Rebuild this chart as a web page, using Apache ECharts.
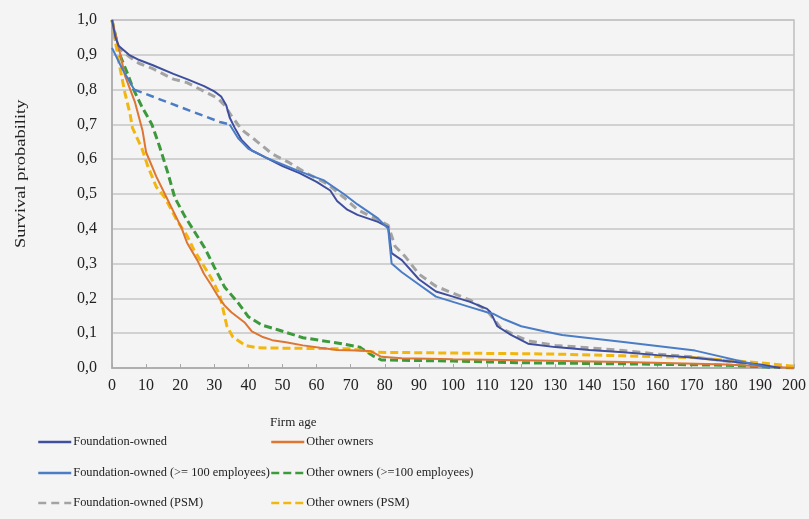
<!DOCTYPE html>
<html>
<head>
<meta charset="utf-8">
<script src="https://cdn.jsdelivr.net/npm/echarts@6/dist/echarts.min.js"></script>
<style>
html,body{margin:0;padding:0;background:#f4f4f4;}
#c{width:809px;height:519px;}
</style>
</head>
<body>
<div id="c"></div>
<script>
// ---- data (firm age, survival probability) ----
var seriesNames = [
  'Foundation-owned',
  'Other owners',
  'Foundation-owned (>= 100 employees)',
  'Other owners (>=100 employees)',
  'Foundation-owned (PSM)',
  'Other owners (PSM)'
];
var xTicks = [0,10,20,30,40,50,60,70,80,90,100,110,120,130,140,150,160,170,180,190,200];
var yTicks = [0,0.1,0.2,0.3,0.4,0.5,0.6,0.7,0.8,0.9,1.0];

var foundationOwned = [[0,1.0],[1,0.95],[2,0.925],[5,0.9],[8,0.885],[12,0.87],[18,0.845],[22,0.83],[27,0.81],[30,0.795],[32,0.78],[33.5,0.755],[34.5,0.72],[36,0.69],[38,0.655],[41,0.625],[45,0.605],[50,0.58],[55,0.56],[60,0.535],[64,0.51],[66,0.48],[69,0.455],[72,0.44],[78,0.42],[81,0.405],[82,0.33],[85,0.31],[90,0.255],[95,0.22],[100,0.205],[105,0.19],[110,0.17],[111,0.16],[113,0.12],[117,0.095],[122,0.07],[130,0.06],[140,0.052],[150,0.045],[160,0.037],[170,0.03],[180,0.02],[190,0.01],[196,0.0]];

var otherOwners = [[0,1.0],[2,0.92],[3.8,0.84],[6.7,0.765],[9,0.68],[10,0.62],[13,0.55],[16,0.49],[18,0.45],[20.5,0.40],[22,0.36],[25,0.31],[27,0.27],[29,0.24],[31.5,0.20],[33,0.18],[35,0.16],[37,0.145],[39,0.13],[41,0.105],[44,0.09],[47,0.08],[51,0.074],[56,0.065],[61,0.058],[66,0.052],[72,0.05],[76,0.048],[79,0.032],[85,0.028],[100,0.025],[120,0.022],[150,0.017],[180,0.01],[200,0.0]];

var foundationLargeStart = [[0,0.92],[3,0.86],[6.5,0.80]];
var foundationLargeGap = [[6.5,0.80],[31.6,0.707],[34.5,0.70]];
var foundationLarge = [[34.5,0.70],[37,0.66],[40,0.63],[45,0.605],[50,0.585],[55,0.565],[62,0.54],[68,0.50],[72,0.47],[78,0.43],[81,0.40],[82,0.30],[85,0.275],[90,0.24],[95,0.205],[100,0.19],[105,0.175],[110,0.16],[112,0.155],[115,0.14],[120,0.12],[127,0.105],[132,0.095],[150,0.075],[171,0.05],[193,0.0]];

var otherLarge = [[0,1.0],[2.3,0.9],[4.4,0.85],[6.1,0.805],[8.8,0.75],[11.7,0.70],[14,0.635],[16.4,0.56],[18.4,0.49],[21.4,0.435],[24.3,0.39],[27.2,0.345],[30,0.29],[33,0.233],[37,0.187],[40,0.147],[44,0.123],[48.6,0.11],[56,0.087],[66,0.072],[72.6,0.06],[76.5,0.035],[79,0.023],[100,0.02],[120,0.015],[150,0.012],[180,0.008],[200,0.0]];

var foundationPSM = [[0,1.0],[1,0.94],[2,0.92],[5,0.895],[8,0.875],[12,0.86],[18,0.83],[22,0.82],[27,0.795],[31,0.775],[33,0.755],[35,0.725],[38,0.685],[42,0.655],[47,0.615],[52,0.59],[57,0.56],[63,0.53],[68,0.49],[72,0.455],[77,0.43],[81,0.41],[83,0.35],[86,0.32],[90,0.27],[95,0.235],[100,0.215],[105,0.195],[110,0.165],[112,0.14],[114,0.115],[118,0.095],[122,0.078],[130,0.065],[140,0.058],[150,0.05],[160,0.04],[170,0.032],[180,0.02],[190,0.01],[197,0.0]];

var otherPSM = [[0,1.0],[1.8,0.89],[3.8,0.79],[5.3,0.73],[6,0.69],[8.8,0.63],[10.5,0.58],[13,0.52],[15.5,0.49],[19,0.425],[22,0.38],[24,0.34],[29,0.26],[31.6,0.21],[33.7,0.12],[35.4,0.09],[39,0.065],[42.6,0.058],[50,0.057],[60,0.056],[70,0.055],[77,0.045],[90,0.044],[110,0.042],[130,0.04],[150,0.035],[170,0.03],[190,0.015],[200,0.005]];

var colors = {
  navy: '#3f4f9e',
  orange: '#dd7633',
  blue: '#4a7dc6',
  green: '#3c9a3c',
  gray: '#a3a3a3',
  yellow: '#f2b70f'
};

var FONT = '"Liberation Serif", "Times New Roman", serif';

function lineSeries(name, data, color, width, type, z) {
  return {
    name: name, type: 'line', data: data, symbol: 'none', showSymbol: false, smooth: false,
    lineStyle: {color: color, width: width, type: type},
    itemStyle: {color: color}, z: z || 2, animation: false
  };
}

function legendItem(name, left, top) {
  return {
    data: [name], left: left, top: top, padding: 0,
    itemWidth: 33, itemHeight: 14, itemGap: 2,
    itemStyle: {opacity: 0, borderWidth: 0},
    lineStyle: {width: 2.5},
    textStyle: {fontFamily: FONT, fontSize: 12.4, color: '#222', padding: [0,0,0,-3]},
    selectedMode: true
  };
}

var chart = echarts.init(document.getElementById('c'), null, {renderer: 'canvas'});
chart.setOption({
  backgroundColor: '#f4f4f4',
  animation: false,
  color: [colors.navy, colors.orange, colors.blue, colors.green, colors.gray, colors.yellow],
  grid: {left: 112, right: 14, top: 20, bottom: 151, show: true, borderColor: '#bdbdbd', borderWidth: 1.5, backgroundColor: 'transparent'},
  legend: [
    legendItem(seriesNames[0], 37, 436),
    legendItem(seriesNames[1], 270, 436),
    legendItem(seriesNames[2], 37, 467),
    legendItem(seriesNames[3], 270, 467),
    legendItem(seriesNames[4], 37, 497),
    legendItem(seriesNames[5], 270, 497)
  ],
  xAxis: {
    type: 'value', min: xTicks[0], max: xTicks[xTicks.length-1], interval: 10,
    axisLine: {show: true, lineStyle: {color: '#a8a8a8', width: 1.5}},
    axisTick: {show: true, inside: true, length: 4, lineStyle: {color: '#a8a8a8'}},
    axisLabel: {fontFamily: FONT, fontSize: 16, color: '#222', margin: 10},
    splitLine: {show: false}
  },
  yAxis: {
    type: 'value', min: yTicks[0], max: yTicks[yTicks.length-1], interval: 0.1,
    axisLine: {show: true, lineStyle: {color: '#a8a8a8', width: 1.5}},
    axisTick: {show: false},
    axisLabel: {fontFamily: FONT, fontSize: 16, color: '#222', margin: 15,
      formatter: function (v) { return v.toFixed(1).replace('.', ','); }},
    splitLine: {show: true, lineStyle: {color: '#c6c6c6', width: 1.5}}
  },
  graphic: [
    {type: 'text', left: 270, top: 416, style: {text: 'Firm age', font: '13px ' + FONT, fill: '#222'}},
    {type: 'text', x: 14, y: 248, rotation: Math.PI / 2, scaleY: 0.8,
      style: {text: 'Survival probability', font: '18.5px ' + FONT, fill: '#222', align: 'left', verticalAlign: 'top'}}
  ],
  series: [
    lineSeries(seriesNames[0], foundationOwned, colors.navy, 2, 'solid', 5),
    lineSeries(seriesNames[1], otherOwners, colors.orange, 2, 'solid', 4),
    lineSeries(seriesNames[2], foundationLargeStart, colors.blue, 2, 'solid', 6),
    lineSeries(seriesNames[2], foundationLargeGap, colors.blue, 2.5, [8, 5], 6),
    lineSeries(seriesNames[2], foundationLarge, colors.blue, 2, 'solid', 6),
    lineSeries(seriesNames[3], otherLarge, colors.green, 3, [8, 4], 3),
    lineSeries(seriesNames[4], foundationPSM, colors.gray, 3, [8, 5], 3),
    lineSeries(seriesNames[5], otherPSM, colors.yellow, 3, [8, 4], 3)
  ]
});
</script>
</body>
</html>
